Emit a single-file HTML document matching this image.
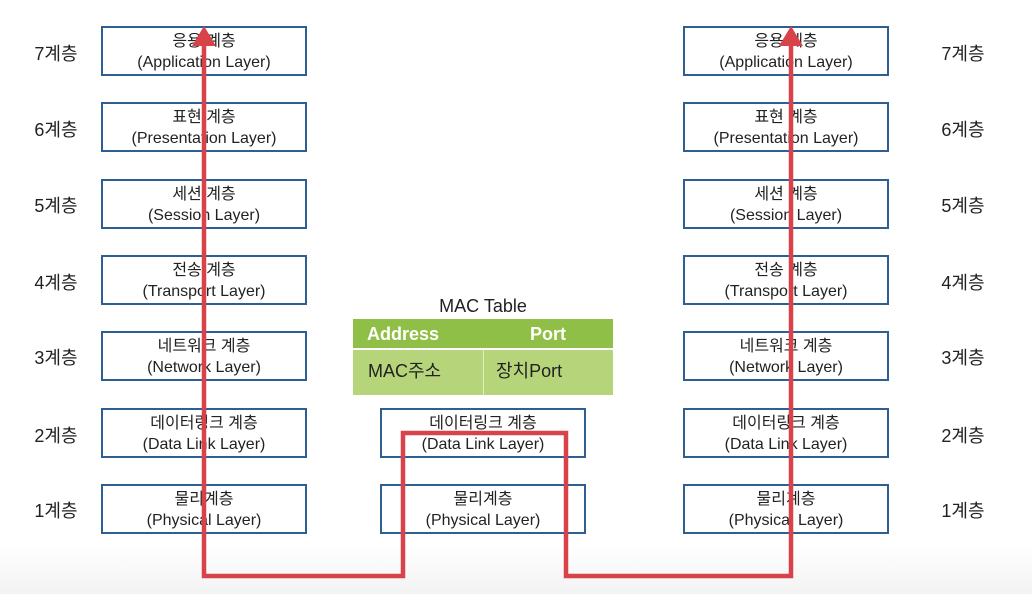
<!DOCTYPE html>
<html><head><meta charset="utf-8"><style>
body{margin:0;width:1032px;height:594px;overflow:hidden;background:linear-gradient(#fff 0,#fff 545px,#f3f3f3 594px);font-family:"Liberation Sans","Noto Sans CJK KR",sans-serif;position:relative;color:#222}
.b{position:absolute;width:202px;height:43px;border:2.5px solid #2e5f93;background:#fff;text-align:center;font-size:16px;line-height:21px;padding-top:3px;box-sizing:content-box}
.l{position:absolute;font-size:18px;width:80px;text-align:center}
</style></head><body>
<div class="b" style="left:101px;top:26px">응용 계층<br>(Application Layer)</div>
<div class="b" style="left:101px;top:102px">표현 계층<br>(Presentation Layer)</div>
<div class="b" style="left:101px;top:179px">세션 계층<br>(Session Layer)</div>
<div class="b" style="left:101px;top:255px">전송 계층<br>(Transport Layer)</div>
<div class="b" style="left:101px;top:331px">네트워크 계층<br>(Network Layer)</div>
<div class="b" style="left:101px;top:408px">데이터링크 계층<br>(Data Link Layer)</div>
<div class="b" style="left:101px;top:484px">물리계층<br>(Physical Layer)</div>
<div class="b" style="left:683px;top:26px">응용 계층<br>(Application Layer)</div>
<div class="b" style="left:683px;top:102px">표현 계층<br>(Presentation Layer)</div>
<div class="b" style="left:683px;top:179px">세션 계층<br>(Session Layer)</div>
<div class="b" style="left:683px;top:255px">전송 계층<br>(Transport Layer)</div>
<div class="b" style="left:683px;top:331px">네트워크 계층<br>(Network Layer)</div>
<div class="b" style="left:683px;top:408px">데이터링크 계층<br>(Data Link Layer)</div>
<div class="b" style="left:683px;top:484px">물리계층<br>(Physical Layer)</div>
<div class="b" style="left:380px;top:408px">데이터링크 계층<br>(Data Link Layer)</div>
<div class="b" style="left:380px;top:484px">물리계층<br>(Physical Layer)</div>

<div class="l" style="left:16px;top:40px">7계층</div>
<div class="l" style="left:16px;top:116px">6계층</div>
<div class="l" style="left:16px;top:192px">5계층</div>
<div class="l" style="left:16px;top:269px">4계층</div>
<div class="l" style="left:16px;top:344px">3계층</div>
<div class="l" style="left:16px;top:422px">2계층</div>
<div class="l" style="left:16px;top:497px">1계층</div>
<div class="l" style="left:923px;top:40px">7계층</div>
<div class="l" style="left:923px;top:116px">6계층</div>
<div class="l" style="left:923px;top:192px">5계층</div>
<div class="l" style="left:923px;top:269px">4계층</div>
<div class="l" style="left:923px;top:344px">3계층</div>
<div class="l" style="left:923px;top:422px">2계층</div>
<div class="l" style="left:923px;top:497px">1계층</div>

<div style="position:absolute;left:353px;top:296px;width:260px;text-align:center;font-size:18px">MAC Table</div>
<div style="position:absolute;left:353px;top:319px;width:260px;height:76px;background:#b6d57a">
 <div style="height:29px;background:#8fbf46;color:#fff;font-weight:bold;font-size:18px;line-height:31px;border-bottom:2px solid #fff">
  <span style="position:absolute;left:14px">Address</span><span style="position:absolute;left:177px">Port</span></div>
 <div style="position:absolute;left:130px;top:31px;width:1px;height:45px;background:#e0eec5"></div>
 <span style="position:absolute;left:15px;top:38px;font-size:18px">MAC주소</span>
 <span style="position:absolute;left:143px;top:38px;font-size:18px">장치Port</span>
</div>

<svg style="position:absolute;left:0;top:0" width="1032" height="594">
<polyline points="204,42 204,576 403,576 403,433 566,433 566,576 791,576 791,42" fill="none" stroke="#d8434a" stroke-width="4.5"/>
<polygon points="204,26 192,46 216,46" fill="#d8434a"/>
<polygon points="791,26 779,46 803,46" fill="#d8434a"/>
</svg>
</body></html>
